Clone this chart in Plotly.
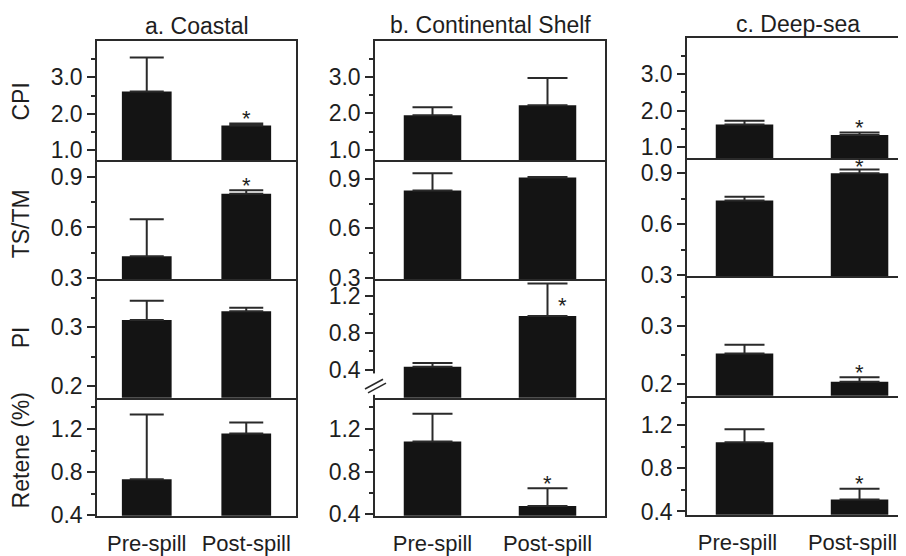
import plotly.graph_objects as go

# ---------------- data ----------------
categories = ["Pre-spill", "Post-spill"]
regions = ["a. Coastal", "b. Continental Shelf", "c. Deep-sea"]
index_names = ["CPI", "TS/TM", "PI", "Retene (%)"]

# mean values [Pre-spill, Post-spill] for [Coastal, Shelf, Deep-sea]
cpi_mean = [[2.61, 1.67], [1.95, 2.22], [1.62, 1.33]]
cpi_sd = [[0.94, 0.06], [0.22, 0.75], [0.10, 0.07]]
tstm_mean = [[0.43, 0.80], [0.83, 0.91], [0.74, 0.90]]
tstm_sd = [[0.218, 0.02], [0.105, 0.002], [0.022, 0.023]]
pi_mean = [[0.312, 0.327], [0.435, 0.98], [0.252, 0.2034]]
pi_sd = [[0.033, 0.006], [0.039, 0.35], [0.015, 0.0076]]
retene_mean = [[0.734, 1.16], [1.08, 0.478], [1.04, 0.51]]
retene_sd = [[0.60, 0.10], [0.26, 0.166], [0.12, 0.10]]

# significance flags (asterisk)
cpi_sig = [[False, True], [False, False], [False, True]]
tstm_sig = [[False, True], [False, False], [False, True]]
pi_sig = [[False, False], [False, True], [False, True]]
retene_sig = [[False, False], [False, True], [False, True]]

means = [cpi_mean, tstm_mean, pi_mean, retene_mean]
sds = [cpi_sd, tstm_sd, pi_sd, retene_sd]
sigs = [cpi_sig, tstm_sig, pi_sig, retene_sig]

# axis ranges / ticks per [row][col]
y_ranges = [
    [[0.72, 4.0], [0.72, 3.98], [0.70, 3.98]],
    [[0.295, 1.0], [0.293, 1.016], [0.295, 0.99]],
    [[0.18, 0.382], [0.10, 1.38], [0.179, 0.386]],
    [[0.397, 1.49], [0.388, 1.488], [0.37, 1.47]],
]
major_ticks = [
    [[1, 2, 3]] * 3,
    [[0.3, 0.6, 0.9]] * 3,
    [[0.2, 0.3], [0.4, 0.8, 1.2], [0.2, 0.3]],
    [[0.4, 0.8, 1.2]] * 3,
]
minor_ticks = [
    [[1.5, 2.5, 3.5]] * 3,
    [[0.45, 0.75]] * 3,
    [[0.25, 0.35], [0.6, 1.0], [0.25, 0.35]],
    [[0.6, 1.0, 1.4]] * 3,
]

# ---------------- layout geometry (reference pixels) ----------------
OFF = 8                      # page body margin offset
W, H = 906 - OFF, 556 - OFF
col_x = [(97, 296), (375, 605), (687, 906)]
x_ranges = [[-0.5, 1.5], [-0.5, 1.5], [-0.5, 1.404]]
row_y = [[42, 164, 286, 408, 529], [42, 164, 286, 408, 529], [39, 162, 283, 406, 528]]
cap_w = [17, 20, 20]
xlabel_shift = [0, 0, -7]

FONT = "Liberation Sans, Arial, sans-serif"
FS = 23
TXT = "#1e1e1e"
LINE = "#2a2a2a"
BAR = "#141414"
LW = 1.5

# asterisk placement tweaks: (row, col) -> (anchor at mid of error bar?, xshift, yshift)
STAR_DEFAULT = (False, 0, 5)
STAR_TWEAK = {(2, 1): (True, 15, -6), (1, 2): (False, 0, 2.5)}


def px_x(p):
    return (p - OFF) / W


def px_y(p):
    return 1 - (p - OFF) / H


fig = go.Figure()
layout = dict(
    width=W, height=H, autosize=False,
    margin=dict(l=0, r=0, t=0, b=0),
    paper_bgcolor="white", plot_bgcolor="white",
    showlegend=False,
    font=dict(family=FONT, size=FS, color=TXT),
)
annotations = []
shapes = []

for r in range(4):
    for c in range(3):
        n = r * 3 + c + 1
        xa = "x" if n == 1 else f"x{n}"
        ya = "y" if n == 1 else f"y{n}"
        m = means[r][c]
        e = sds[r][c]
        fig.add_trace(go.Bar(
            x=categories, y=m, width=0.5,
            marker=dict(color=BAR, line=dict(width=0)),
            error_y=dict(type="data", array=e, arrayminus=[0, 0], symmetric=False,
                         color=LINE, thickness=2, width=cap_w[c]),
            xaxis=xa, yaxis=ya, hoverinfo="skip",
        ))
        x0, x1 = col_x[c]
        ytop, ybot = row_y[c][r], row_y[c][r + 1]
        layout["xaxis" if n == 1 else f"xaxis{n}"] = dict(
            domain=[px_x(x0), min(1.0, px_x(x1))], anchor=ya, type="category",
            range=x_ranges[c], showline=True, mirror=(r == 0), linecolor=LINE, linewidth=LW,
            ticks="", showgrid=False, zeroline=False,
            showticklabels=(r == 3), tickfont=dict(size=22, color=TXT),
            ticklabelstandoff=7, ticklabelshift=xlabel_shift[c], fixedrange=True,
        )
        layout["yaxis" if n == 1 else f"yaxis{n}"] = dict(
            domain=[px_y(ybot), px_y(ytop)], anchor=xa,
            range=y_ranges[r][c], showline=True, mirror=(c < 2), linecolor=LINE, linewidth=LW,
            tickmode="array", tickvals=major_ticks[r][c],
            ticktext=[f"{v:.1f}" for v in major_ticks[r][c]],
            ticks="outside", ticklen=8, tickwidth=1.5, tickcolor=LINE,
            minor=dict(tickmode="array", tickvals=minor_ticks[r][c], ticks="outside",
                       ticklen=4, tickwidth=1.5, tickcolor=LINE, showgrid=False),
            showgrid=False, zeroline=False, tickfont=dict(size=FS, color=TXT),
            fixedrange=True,
        )
        # significance asterisks
        for k in range(2):
            if sigs[r][c][k]:
                top = m[k] + e[k]
                mid, xs, ys = STAR_TWEAK.get((r, c), STAR_DEFAULT)
                yv = (m[k] + top) / 2 if mid else top
                annotations.append(dict(
                    x=categories[k], y=yv, xref=xa, yref=ya, text="*",
                    showarrow=False, xanchor="center", yanchor="middle",
                    xshift=xs, yshift=ys, font=dict(size=22, color=TXT),
                ))

# column titles
title_pos = [(197, 26), (490, 25), (798, 24)]
for t, (tx, ty) in zip(regions, title_pos):
    annotations.append(dict(x=px_x(tx), y=px_y(ty), xref="paper", yref="paper", text=t,
                            showarrow=False, xanchor="center", yanchor="middle",
                            font=dict(size=FS, color=TXT)))
# row titles
row_title_y = [104, 230, 346, 462]
for t, ty in zip(index_names, row_title_y):
    annotations.append(dict(x=px_x(21), y=px_y(ty), xref="paper", yref="paper", text=t,
                            showarrow=False, xanchor="center", yanchor="middle", textangle=-90,
                            font=dict(size=FS, color=TXT)))

# axis break on panel b / PI
shapes.append(dict(type="rect", xref="paper", yref="paper",
                   x0=px_x(371), x1=px_x(379), y0=px_y(405), y1=px_y(383),
                   fillcolor="white", line=dict(width=0), layer="above"))
for dx, dy in [(0, 0), (3, 4)]:
    shapes.append(dict(type="line", xref="paper", yref="paper",
                       x0=px_x(365 + dx), y0=px_y(399 + dy), x1=px_x(383 + dx), y1=px_y(389 + dy),
                       line=dict(color=LINE, width=1.6), layer="above"))

layout["annotations"] = annotations
layout["shapes"] = shapes
fig.update_layout(**layout)
fig.write_html("out.html")
